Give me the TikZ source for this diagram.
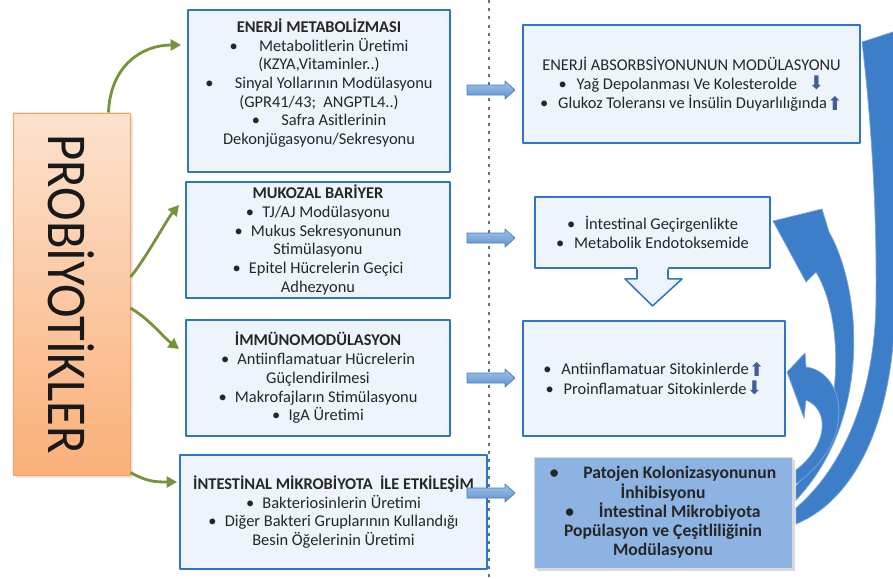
\documentclass[tikz,border=0pt]{standalone}
\usepackage{fontspec}
\setmainfont{Carlito}
\newfontfamily\symfont{DejaVu Sans}
\usetikzlibrary{arrows.meta,shadows,backgrounds}

\definecolor{boxblue}{RGB}{46,117,199}
\definecolor{boxfill}{RGB}{237,244,252}
\definecolor{probtop}{RGB}{252,226,206}
\definecolor{probbot}{RGB}{250,176,120}
\definecolor{probline}{RGB}{246,160,90}
\definecolor{leafgreen}{RGB}{119,147,60}
\definecolor{flowtop}{RGB}{160,196,234}
\definecolor{flowbot}{RGB}{95,145,205}
\definecolor{flowline}{RGB}{75,125,185}
\definecolor{bigblue}{RGB}{61,126,200}
\definecolor{bigedge}{RGB}{120,165,220}
\definecolor{resultfill}{RGB}{141,179,226}
\definecolor{markblue}{RGB}{65,95,150}
\definecolor{dotline}{RGB}{85,115,145}

\newcommand{\upmark}{\smash{\raisebox{-2pt}{\color{markblue}\symfont\fontsize{16}{14}\selectfont ⬆}}}
\newcommand{\downmark}{\smash{\raisebox{0pt}{\color{markblue}\symfont\fontsize{16}{14}\selectfont ⬇}}}

\begin{document}
\begin{tikzpicture}[x=0.03cm,y=-0.03cm,line join=round,
  every node/.style={inner sep=1pt,align=center,text=black!85,font=\fontsize{14}{16}\selectfont},
  probbox/.style={top color=probtop,bottom color=probbot,draw=probline,line width=0.8pt,drop shadow={opacity=0.2}},
  mainbox/.style={draw=boxblue,line width=1.6pt,fill=boxfill},
  resultbox/.style={draw=black!15,line width=0.8pt,fill=resultfill,drop shadow={opacity=0.3},
    font=\fontsize{15}{16.4}\selectfont\bfseries},
  greenarr/.style={draw=leafgreen,line width=2.4pt,-{Triangle[length=9pt,width=9.5pt]}},
  flowarrow/.style={top color=flowtop,bottom color=flowbot,draw=flowline,line width=0.6pt},
  bigarr/.style={fill=bigblue,draw=bigedge,line width=0.6pt},
  hollowarr/.style={draw=boxblue,line width=1.3pt}]
  \useasboundingbox (0,0) rectangle (893,578);

  % left column
  \node[probbox,minimum width=3.51cm,minimum height=10.86cm] (prob) at (71.5,294)
    {\rotatebox{-90}{\fontsize{48}{48}\selectfont\color{black!90}\scalebox{0.9}[1]{PROBİYOTİKLER}}};

  \node[mainbox,minimum width=7.86cm,minimum height=4.86cm] (enerji) at (319,91)
    {\textbf{ENERJİ METABOLİZMASI}\\
     \textbullet\hspace{1.3em}Metabolitlerin Üretimi\\
     (KZYA,Vitaminler..)\\
     \textbullet\hspace{1.3em}Sinyal Yollarının Modülasyonu\\
     (GPR41/43;\ \ ANGPTL4..)\\
     \textbullet\hspace{1.3em}Safra Asitlerinin\\
     Dekonjügasyonu/Sekresyonu\\ ~};
  \node[mainbox,minimum width=7.92cm,minimum height=3.48cm] (mukoza) at (318,240)
    {\textbf{MUKOZAL BARİYER}\\
     \textbullet\hspace{.5em}TJ/AJ Modülasyonu\\
     \textbullet\hspace{.5em}Mukus Sekresyonunun\\
     Stimülasyonu\\
     \textbullet\hspace{.5em}Epitel Hücrelerin Geçici\\
     Adhezyonu};
  \node[mainbox,minimum width=7.92cm,minimum height=3.48cm] (immuno) at (318,378)
    {\textbf{İMMÜNOMODÜLASYON}\\
     \textbullet\hspace{.5em}Antiinflamatuar Hücrelerin\\
     Güçlendirilmesi\\
     \textbullet\hspace{.5em}Makrofajların Stimülasyonu\\
     \textbullet\hspace{.5em}IgA Üretimi};
  \node[mainbox,minimum width=9.21cm,minimum height=3.42cm] (mikro) at (333.5,512)
    {\textbf{İNTESTİNAL MİKROBİYOTA\ \ İLE ETKİLEŞİM}\\
     \textbullet\hspace{.5em}Bakteriosinlerin Üretimi\\
     \textbullet\hspace{.5em}Diğer Bakteri Gruplarının Kullandığı\\
     Besin Öğelerinin Üretimi};

  % right column
  \node[mainbox,minimum width=10.11cm,minimum height=3.54cm] (absorb) at (691.5,84)
    {ENERJİ ABSORBSİYONUNUN MODÜLASYONU\\
     \textbullet\hspace{.6em}Yağ Depolanması Ve Kolesterolde\hspace{.7em}\downmark\\
     \textbullet\hspace{.6em}Glukoz Toleransı ve İnsülin Duyarlılığında\upmark};
  \node[mainbox,minimum width=7.05cm,minimum height=2.13cm] (gecir) at (652.5,232.5)
    {\textbullet\hspace{.6em}İntestinal Geçirgenlikte\\
     \textbullet\hspace{.6em}Metabolik Endotoksemide};
  \node[mainbox,minimum width=7.86cm,minimum height=3.45cm] (sitokin) at (654,378.5)
    {\textbullet\hspace{.6em}Antiinflamatuar Sitokinlerde\upmark\\[1pt]
     \textbullet\hspace{.6em}Proinflamatuar Sitokinlerde\downmark};
  \node[resultbox,minimum width=7.74cm,minimum height=3.33cm] (patojen) at (663,512.5)
    {\textbullet\hspace{1.4em}Patojen Kolonizasyonunun\\
     İnhibisyonu\\
     \textbullet\hspace{1.4em}İntestinal Mikrobiyota\\
     Popülasyon ve Çeşitliliğinin\\
     Modülasyonu};

  \draw[dotline,line width=1.8pt,dash pattern=on 2.5pt off 4.5pt] (489,0) -- (489,578);

  % green links
  \draw[greenarr] ([xshift=-0.66cm]prob.north east) .. controls +(2,-48) and +(-38,0) .. ([shift={(-6,-46)}]enerji.west);
  \draw[greenarr] ([shift={(0,-17)}]prob.east) .. controls +(15,-18) and +(-12,14) .. ([shift={(-6,-35)}]mukoza.west);
  \draw[greenarr] ([shift={(0,14)}]prob.east) .. controls +(20,12) and +(-16,-12) .. ([shift={(-6,-29)}]immuno.west);
  \draw[greenarr] ([shift={(0,-3)}]prob.south east) .. controls +(16,9) and +(-22,0) .. ([shift={(-2,-30)}]mikro.west);

  % block arrows across the line
  \foreach \yy in {90,238,378,493}{
    \shade[flowarrow] (467,\yy-5) -- (505,\yy-5) -- (505,\yy-9) -- (515,\yy)
      -- (505,\yy+9) -- (505,\yy+5) -- (467,\yy+5) -- cycle;
  }

  % hollow arrow down from gecir
  \fill[boxfill] ([shift={(-15.5,-2)}]gecir.south) -- ++(0,12) -- ++(-12,0) -- ++(27.5,27)
    -- ++(29.5,-27) -- ++(-14,0) -- ++(0,-12) -- cycle;
  \draw[hollowarr] ([shift={(-15.5,0)}]gecir.south) -- ++(0,10) -- ++(-12,0) -- ++(27.5,27)
    -- ++(29.5,-27) -- ++(-14,0) -- ++(0,-10);

  % curved arrows back up
  \begin{scope}[on background layer]
    \fill[bigarr] (862,42) -- (905,28) .. controls (900,100) and (895,200) .. (895,300)
      .. controls (895,420) and (855,500) .. (796,524) -- (796,508)
      .. controls (840,470) and (875,400) .. (876,300)
      .. controls (877,200) and (870,110) .. (862,42) -- cycle;
    \filldraw[bigarr] (773,221) -- (822,209) -- (829,232) .. controls (862,290) and (872,420) .. (796,500)
      -- (796,486) .. controls (845,430) and (845,320) .. (816,272) -- (806,282) -- cycle;
    \filldraw[bigarr] (787,372) -- (805,353) -- (806,367) .. controls (845,372) and (858,440) .. (796,484)
      -- (796,470) .. controls (828,445) and (830,410) .. (806,400) -- (804,418) -- cycle;
  \end{scope}
\end{tikzpicture}
\end{document}
